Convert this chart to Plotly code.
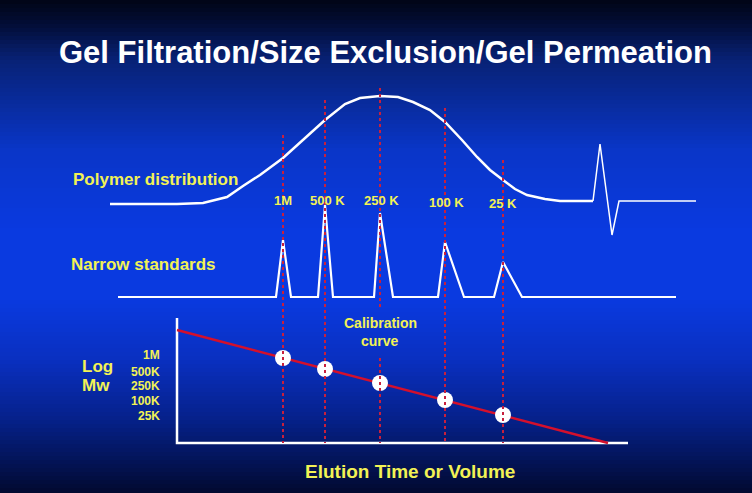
import plotly.graph_objects as go
import numpy as np

# Polymer distribution (broad peak), elution position vs signal (screen units)
dist_x = [110, 177, 203, 227, 243, 260, 283, 300, 325, 345, 360, 380, 398, 413,
          430, 445, 462, 477, 490, 503, 515, 527, 545, 560, 593]
dist_y = [204, 204, 203, 197, 186, 175, 158, 143, 120, 104, 98, 96, 97, 102,
          110, 122, 140, 157, 170, 180, 189, 195, 199, 201, 201]

# System peak at the end of the run
sys_x = [593, 600, 612, 619, 696]
sys_y = [201, 144, 235, 201, 201]

# Narrow standards trace
std_trace_x = [118, 276, 283, 291, 318, 325, 333, 374, 380, 393, 438, 445, 464,
               494, 503, 522, 676]
std_trace_y = [297, 297, 240, 297, 297, 205, 297, 297, 213, 297, 297, 242, 297,
               297, 262, 297, 297]

# Standards
std_labels = ["1M", "500 K", "250 K", "100 K", "25 K"]
std_x = [283, 325, 380, 445, 503]
std_label_x = [283, 327, 381, 446, 503]
std_label_y = [200, 200, 200, 202, 203]
guide_top = [135, 100, 88, 108, 160]
guide_bottom = 443

# Calibration curve
cal_line_x = [177, 608]
cal_line_y = [330, 443]
cal_pt_y = [358, 369, 383, 400, 415]

# Log Mw tick labels
mw_labels = ["1M", "500K", "250K", "100K", "25K"]
mw_label_y = [355, 372, 386, 401, 416]

# calibration axes
axis_x = [177, 177, 628]
axis_y = [318, 443, 443]

W, H = 752, 493
YEL = "#f2f255"
GUIDE = "#c8203c"
FONT = "Liberation Sans, Arial, sans-serif"

fig = go.Figure()

# vertical dotted guides (250 K guide broken by the "Calibration curve" label)
gx, gy = [], []
for x, top in zip(std_x, guide_top):
    if x == 380:
        gx += [x, x, None, x, x, None]
        gy += [top, 310, None, 358, guide_bottom, None]
    else:
        gx += [x, x, None]
        gy += [top, guide_bottom, None]

fig.add_trace(go.Scatter(x=dist_x, y=dist_y, mode="lines",
                         line=dict(color="white", width=2.5)))
fig.add_trace(go.Scatter(x=sys_x, y=sys_y, mode="lines",
                         line=dict(color="white", width=1.5)))
fig.add_trace(go.Scatter(x=std_trace_x, y=std_trace_y, mode="lines",
                         line=dict(color="white", width=2.2)))
fig.add_trace(go.Scatter(x=axis_x, y=axis_y, mode="lines",
                         line=dict(color="white", width=2.5)))
fig.add_trace(go.Scatter(x=cal_line_x, y=cal_line_y, mode="lines",
                         line=dict(color="#d4102c", width=2.5)))
fig.add_trace(go.Scatter(x=std_x, y=cal_pt_y, mode="markers",
                         marker=dict(color="white", size=16)))
fig.add_trace(go.Scatter(x=gx, y=gy, mode="lines",
                         line=dict(color=GUIDE, width=2, dash="3px,3px")))

# background gradient strips
stops = [(0, (1, 5, 22)), (25, (3, 14, 56)), (60, (8, 34, 118)),
         (150, (10, 54, 200)), (230, (10, 58, 224)), (300, (10, 58, 224)),
         (360, (10, 48, 192)), (420, (6, 33, 138)), (493, (2, 10, 48))]
shapes = []
step = 4
for y0 in range(0, H, step):
    yc = y0 + step / 2
    c = [np.interp(yc, [s[0] for s in stops], [s[1][i] for s in stops]) for i in range(3)]
    shapes.append(dict(type="rect", xref="x", yref="y", x0=0, x1=W, y0=y0, y1=y0 + step + 0.5,
                       fillcolor="rgb(%d,%d,%d)" % tuple(int(v) for v in c),
                       line=dict(width=0), layer="below"))

ann = []
ann.append(dict(text="<b>Gel Filtration/Size Exclusion/Gel Permeation</b>", x=385, y=52,
                font=dict(color="white", size=31, family=FONT)))
ann.append(dict(text="<b>Polymer distribution</b>", x=71, y=179, xanchor="left",
                font=dict(color=YEL, size=17, family=FONT)))
ann.append(dict(text="<b>Narrow standards</b>", x=69, y=264, xanchor="left",
                font=dict(color=YEL, size=17, family=FONT)))
for t, x, y in zip(std_labels, std_label_x, std_label_y):
    ann.append(dict(text="<b>%s</b>" % t, x=x, y=y, font=dict(color=YEL, size=13, family=FONT)))
ann.append(dict(text="<b>Calibration</b>", x=380, y=323,
                font=dict(color=YEL, size=14, family=FONT)))
ann.append(dict(text="<b>curve</b>", x=380, y=341,
                font=dict(color=YEL, size=14, family=FONT)))
ann.append(dict(text="<b>Log</b>", x=80, y=366, xanchor="left",
                font=dict(color=YEL, size=17, family=FONT)))
ann.append(dict(text="<b>Mw</b>", x=80, y=385, xanchor="left",
                font=dict(color=YEL, size=17, family=FONT)))
for t, y in zip(mw_labels, mw_label_y):
    ann.append(dict(text="<b>%s</b>" % t, x=162, y=y, xanchor="right",
                    font=dict(color=YEL, size=12, family=FONT)))
ann.append(dict(text="<b>Elution Time or Volume</b>", x=410, y=471,
                font=dict(color=YEL, size=19, family=FONT)))
for a in ann:
    a.update(xref="x", yref="y", showarrow=False)
    a.setdefault("xanchor", "center")
    a.setdefault("yanchor", "middle")

fig.update_layout(
    width=W, height=H,
    margin=dict(l=0, r=0, t=0, b=0),
    showlegend=False,
    plot_bgcolor="#0a3ae0",
    paper_bgcolor="#02081e",
    xaxis=dict(range=[0, W], visible=False, fixedrange=True),
    yaxis=dict(range=[H, 0], visible=False, fixedrange=True),
    shapes=shapes,
    annotations=ann,
)

fig.write_html("out.html", config={"displayModeBar": False},
               post_script="document.body.style.margin='0';")
